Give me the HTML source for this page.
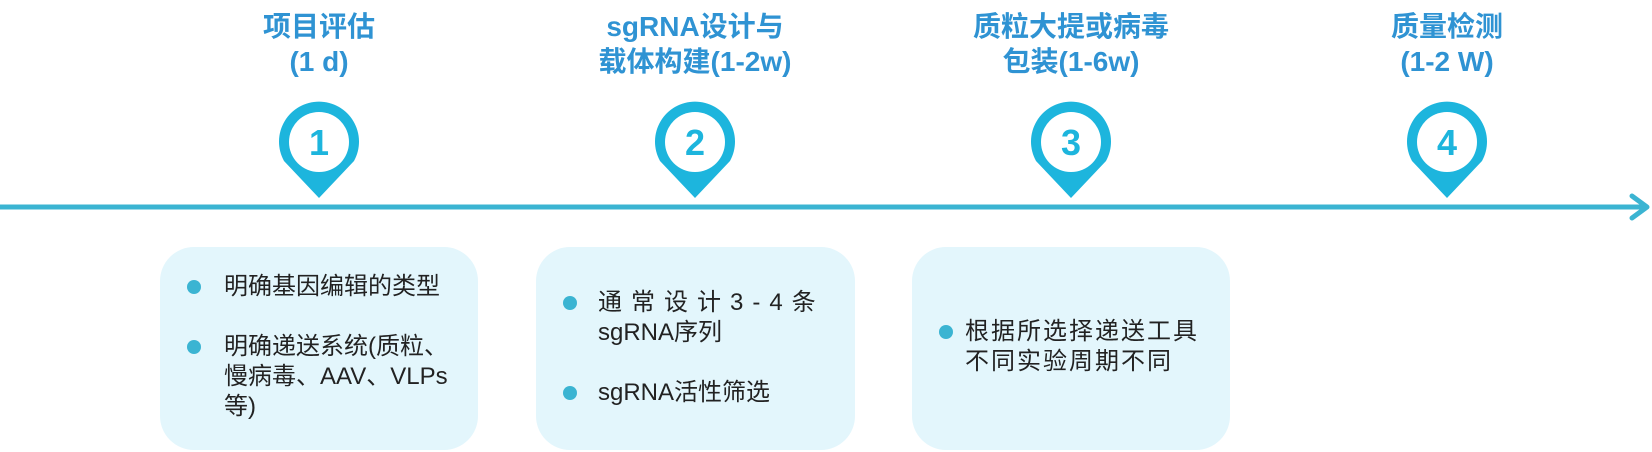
<!DOCTYPE html>
<html><head><meta charset="utf-8"><style>
body{margin:0;width:1652px;height:452px;background:#fff;position:relative;overflow:hidden;font-family:"Liberation Sans","Noto Sans CJK SC",sans-serif;}
.t{position:absolute;width:360px;text-align:center;color:#2f93d3;font-weight:bold;font-size:28px;line-height:35px;}
.box{position:absolute;top:247px;height:203px;width:318px;background:#e3f6fc;border-radius:34px;}
.l{position:absolute;font-size:24px;color:#222;line-height:30px;white-space:nowrap;}
.d{position:absolute;width:14px;height:14px;border-radius:50%;background:#3bb4d2;}
</style></head><body>
<div class="t" style="left:139px;top:9px">项目评估<br>(1 d)</div>
<div class="t" style="left:515px;top:9px">sgRNA设计与<br>载体构建(1-2w)</div>
<div class="t" style="left:891px;top:9px">质粒大提或病毒<br>包装(1-6w)</div>
<div class="t" style="left:1267px;top:9px">质量检测<br>(1-2 W)</div>
<svg width="1652" height="452" style="position:absolute;left:0;top:0">
<line x1="0" y1="207" x2="1646" y2="207" stroke="#3bb4d2" stroke-width="5"/>
<polyline points="1632,196 1647,207 1632,218" fill="none" stroke="#3bb4d2" stroke-width="5" stroke-linecap="round" stroke-linejoin="round"/>
<g fill="#1db5dd">
<g transform="translate(319,142)"><path d="M-35,19 A40,40 0 1 1 35,19 L0,56 Z"/><circle r="30" fill="#fff"/><text y="13" text-anchor="middle" font-size="36" font-weight="bold" font-family="Liberation Sans">1</text></g>
<g transform="translate(695,142)"><path d="M-35,19 A40,40 0 1 1 35,19 L0,56 Z"/><circle r="30" fill="#fff"/><text y="13" text-anchor="middle" font-size="36" font-weight="bold" font-family="Liberation Sans">2</text></g>
<g transform="translate(1071,142)"><path d="M-35,19 A40,40 0 1 1 35,19 L0,56 Z"/><circle r="30" fill="#fff"/><text y="13" text-anchor="middle" font-size="36" font-weight="bold" font-family="Liberation Sans">3</text></g>
<g transform="translate(1447,142)"><path d="M-35,19 A40,40 0 1 1 35,19 L0,56 Z"/><circle r="30" fill="#fff"/><text y="13" text-anchor="middle" font-size="36" font-weight="bold" font-family="Liberation Sans">4</text></g>
</g></svg>
<div class="box" style="left:160px"></div>
<div class="box" style="left:536px;width:319px"></div>
<div class="box" style="left:912px"></div>
<div class="d" style="left:187px;top:280px"></div>
<div class="l" style="left:224px;top:272px">明确基因编辑的类型</div>
<div class="d" style="left:187px;top:340px"></div>
<div class="l" style="left:224px;top:332px">明确递送系统(质粒、<br>慢病毒、AAV、VLPs<br>等)</div>
<div class="d" style="left:563px;top:296px"></div>
<div class="l" style="left:598px;top:288px;letter-spacing:9px">通常设计3-4条</div>
<div class="l" style="left:598px;top:318px">sgRNA序列</div>
<div class="d" style="left:563px;top:386px"></div>
<div class="l" style="left:598px;top:378px">sgRNA活性筛选</div>
<div class="d" style="left:939px;top:325px"></div>
<div class="l" style="left:965px;top:317px;letter-spacing:2px">根据所选择递送工具<br>不同实验周期不同</div>
</body></html>
